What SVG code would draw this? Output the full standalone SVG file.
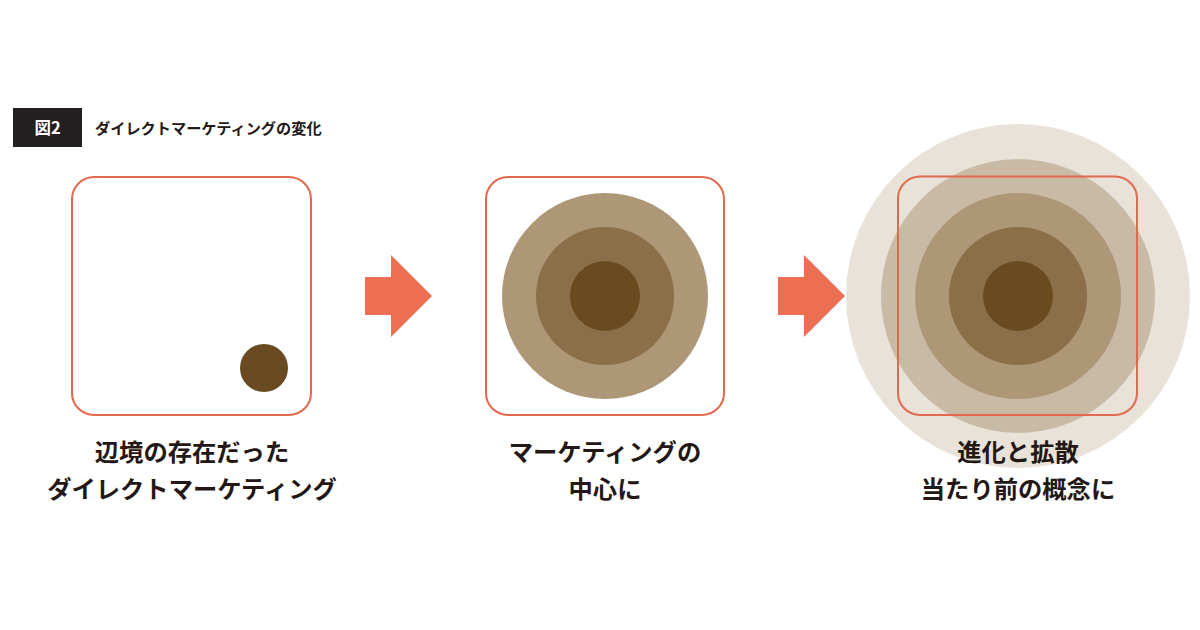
<svg xmlns="http://www.w3.org/2000/svg" width="1200" height="630" viewBox="0 0 1200 630">
<style>
.frame{fill:none;stroke:#E3694E;stroke-width:2}
.arrow{fill:#EC6E53}
.lbl{font-family:"Noto Sans CJK JP",sans-serif;font-weight:700;font-size:24.3px;fill:#231815;text-anchor:middle}
.c1{fill:#E8E2D8}.c2{fill:#C9BAA6}.c3{fill:#AD9777}.c4{fill:#8A6F49}.c5{fill:#6A4B20}
</style>
<rect width="1200" height="630" fill="#FFFFFF"/>
<g id="header">
<rect x="13" y="108" width="69" height="39" fill="#231F20"/>
<text x="47.5" y="134" font-family="Noto Sans CJK JP,sans-serif" font-weight="700" font-size="16.5" fill="#FFFFFF" text-anchor="middle">図2</text>
<text x="95" y="134" font-family="Noto Sans CJK JP,sans-serif" font-weight="700" font-size="15.2" fill="#231815">ダイレクトマーケティングの変化</text>
</g>
<g id="stage1">
<rect class="frame" x="72" y="177" width="239" height="238" rx="22"/>
<circle class="c5" cx="264" cy="368" r="24"/>
<text class="lbl" x="192" y="461">辺境の存在だった</text>
<text class="lbl" x="192" y="498">ダイレクトマーケティング</text>
</g>
<g id="stage2">
<circle class="c3" cx="605" cy="296" r="103"/>
<circle class="c4" cx="605" cy="296" r="69"/>
<circle class="c5" cx="605" cy="296" r="35"/>
<rect class="frame" x="486" y="177" width="238" height="238" rx="22"/>
<text class="lbl" x="605" y="461">マーケティングの</text>
<text class="lbl" x="605" y="498">中心に</text>
</g>
<g id="stage3">
<circle class="c1" cx="1018" cy="296" r="172"/>
<circle class="c2" cx="1018" cy="296" r="137"/>
<circle class="c3" cx="1018" cy="296" r="103"/>
<circle class="c4" cx="1018" cy="296" r="69"/>
<circle class="c5" cx="1018" cy="296" r="35"/>
<rect class="frame" x="898" y="176.5" width="239" height="238.5" rx="22"/>
<text class="lbl" x="1018" y="461">進化と拡散</text>
<text class="lbl" x="1018" y="498">当たり前の概念に</text>
</g>
<g id="connectors">
<polygon class="arrow" points="365,277 391,277 391,255 432,296 391,337 391,315 365,315"/>
<polygon class="arrow" points="778,277 804,277 804,255 845,296 804,337 804,315 778,315"/>
</g>
</svg>
